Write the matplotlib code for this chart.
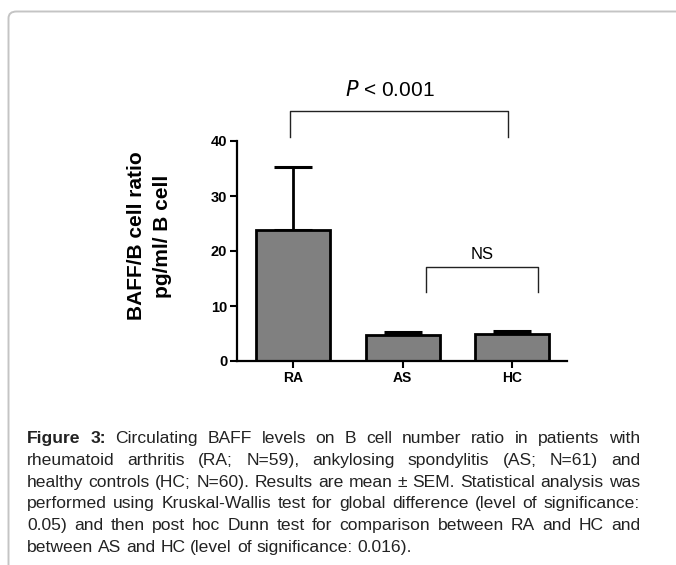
import matplotlib
matplotlib.use("Agg")
import matplotlib.pyplot as plt
from matplotlib.patches import FancyBboxPatch

categories = ["RA", "AS", "HC"]
means = [23.9, 4.7, 5.0]
sem = [11.4, 0.5, 0.45]
yticks = [0, 10, 20, 30, 40]

caption_lines = [
    "Figure 3: Circulating BAFF levels on B cell number ratio in patients with",
    "rheumatoid arthritis (RA; N=59), ankylosing spondylitis (AS; N=61) and",
    "healthy controls (HC; N=60). Results are mean ± SEM. Statistical analysis was",
    "performed using Kruskal-Wallis test for global difference (level of significance:",
    "0.05) and then post hoc Dunn test for comparison between RA and HC and",
    "between AS and HC (level of significance: 0.016).",
]

W, H = 676, 565
plt.rcParams['font.family'] = ['Liberation Sans', 'DejaVu Sans']
fig = plt.figure(figsize=(W / 100, H / 100), dpi=100)
fig.patch.set_facecolor("white")

def fx(px):
    return px / W

def fy(py):
    return 1 - py / H

# rounded border
border = FancyBboxPatch((fx(8.5), fy(620)), fx(720), fy(11.5) - fy(620),
                        boxstyle="round,pad=0,rounding_size=0.012",
                        transform=fig.transFigure, fill=False,
                        edgecolor="#c4c4c4", linewidth=1.4)
fig.patches.append(border)

ax = fig.add_axes([fx(237), fy(361), fx(567) - fx(237), fy(141) - fy(361)])
x = list(range(len(categories)))
ax.bar(x, means, width=0.675, color="#808080", edgecolor="black", linewidth=2.0, zorder=2)
ax.errorbar(x, means, yerr=[[0] * len(sem), sem], fmt="none", ecolor="black",
            elinewidth=2.0, capsize=14, capthick=2.2, zorder=1)
ax.set_xlim(-0.51, 2.5)
ax.set_ylim(0, 40)
ax.set_yticks(yticks)
ax.set_xticks(x)
ax.set_xticklabels(categories, fontweight="bold", fontsize=10)
ax.set_yticklabels([str(t) for t in yticks], fontweight="bold", fontsize=10.5)
for s in ["top", "right"]:
    ax.spines[s].set_visible(False)
for s in ["left", "bottom"]:
    ax.spines[s].set_linewidth(1.6)
ax.tick_params(axis="both", length=5, width=1.5, pad=2)

# y label (two lines)
fig.text(fx(136), fy(236), "BAFF/B cell ratio", rotation=90, ha="center", va="center",
         fontweight="bold", fontsize=15)
fig.text(fx(163), fy(236), "pg/ml/ B cell", rotation=90, ha="center", va="center",
         fontweight="bold", fontsize=15)

# significance brackets
bk = dict(color="#222222", linewidth=1.0, clip_on=False)
ax.plot([-0.025, -0.025, 1.96, 1.96], [40.8, 45.5, 45.5, 40.8], **bk)
ax.text(0.88, 49.2, r"$\mathit{P}$ < 0.001", ha="center", va="center", fontsize=15)
ax.plot([1.21, 1.21, 2.24, 2.24], [12.5, 17.1, 17.1, 12.5], **bk)
ax.text(1.73, 19.4, "NS", ha="center", va="center", fontsize=12)

# justified caption
fig.canvas.draw()
renderer = fig.canvas.get_renderer()
left_px, right_px = 27, 640

def width_of(s, fs, bold=False):
    t = fig.text(0, 0, s, fontsize=fs, fontweight="bold" if bold else "normal")
    w = t.get_window_extent(renderer=renderer).width
    t.remove()
    return w

ref_fs = 12
fs = ref_fs * (right_px - left_px) / width_of(caption_lines[2], ref_fs) * 0.995
space_w = width_of("a b", fs) - width_of("ab", fs)
line_base = [443, 465, 487, 508, 530, 552]
for i, line in enumerate(caption_lines):
    words = line.split(" ")
    texts = []
    widths = []
    for j, w in enumerate(words):
        bold = (i == 0 and j < 2)
        t = fig.text(0, fy(line_base[i]), w, fontsize=fs, va="baseline", ha="left",
                     fontweight="bold" if bold else "normal", color="#222222")
        texts.append(t)
        widths.append(t.get_window_extent(renderer=renderer).width)
    total = sum(widths)
    if i < len(caption_lines) - 1:
        gap = (right_px - left_px - total) / (len(words) - 1)
    else:
        gap = space_w
    xpos = left_px
    for t, w in zip(texts, widths):
        t.set_x(fx(xpos))
        xpos += w + gap

fig.savefig("out.png", dpi=100, facecolor="white")
